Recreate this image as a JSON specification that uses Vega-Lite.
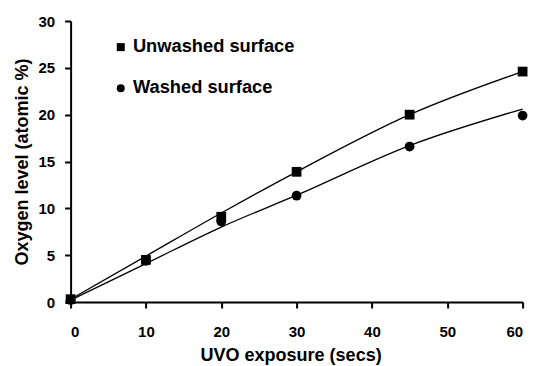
{
  "$schema": "https://vega.github.io/schema/vega-lite/v6.json",
  "autosize": {"type": "none"},
  "padding": {"left": 70.6, "top": 21, "right": 11.4, "bottom": 64},
  "width": 452,
  "height": 281,
  "background": "white",
  "config": {
    "view": {"stroke": null},
    "font": "Liberation Sans",
    "axis": {
      "grid": false,
      "domainColor": "black",
      "domainWidth": 2,
      "tickColor": "black",
      "tickWidth": 2,
      "tickSize": 6,
      "labelFont": "Liberation Sans",
      "labelFontWeight": "bold",
      "labelFontSize": 15,
      "labelColor": "black",
      "titleFont": "Liberation Sans",
      "titleFontWeight": "bold",
      "titleFontSize": 18,
      "titleColor": "black"
    }
  },
  "datasets": {
    "points": [
      {"series": "Unwashed surface", "x": 0, "y": 0.3},
      {"series": "Unwashed surface", "x": 10, "y": 4.5},
      {"series": "Unwashed surface", "x": 20, "y": 9.1},
      {"series": "Unwashed surface", "x": 30, "y": 13.9},
      {"series": "Unwashed surface", "x": 45, "y": 20.0},
      {"series": "Unwashed surface", "x": 60, "y": 24.6},
      {"series": "Washed surface", "x": 0, "y": 0.2},
      {"series": "Washed surface", "x": 10, "y": 4.4},
      {"series": "Washed surface", "x": 20, "y": 8.6},
      {"series": "Washed surface", "x": 30, "y": 11.35},
      {"series": "Washed surface", "x": 45, "y": 16.6},
      {"series": "Washed surface", "x": 60, "y": 19.9}
    ],
    "trend": [
      {"series": "Unwashed surface", "x": 0, "y": 0.3},
      {"series": "Unwashed surface", "x": 10, "y": 4.9},
      {"series": "Unwashed surface", "x": 20, "y": 9.5},
      {"series": "Unwashed surface", "x": 30, "y": 13.9},
      {"series": "Unwashed surface", "x": 45, "y": 20.0},
      {"series": "Unwashed surface", "x": 60, "y": 24.6},
      {"series": "Washed surface", "x": 0, "y": 0.2},
      {"series": "Washed surface", "x": 10, "y": 4.1},
      {"series": "Washed surface", "x": 20, "y": 8.0},
      {"series": "Washed surface", "x": 30, "y": 11.4},
      {"series": "Washed surface", "x": 45, "y": 16.7},
      {"series": "Washed surface", "x": 60, "y": 20.6}
    ]
  },
  "layer": [
    {
      "data": {"name": "trend"},
      "mark": {"type": "line", "color": "black", "strokeWidth": 1.3, "interpolate": "monotone"},
      "encoding": {
        "x": {
          "field": "x", "type": "quantitative",
          "scale": {"domain": [0, 60], "nice": false},
          "axis": {"values": [0, 10, 20, 30, 40, 50, 60], "labelPadding": 16, "title": "UVO exposure (secs)", "titleY": 58, "titleX": 220, "titleBaseline": "alphabetic"}
        },
        "y": {
          "field": "y", "type": "quantitative",
          "scale": {"domain": [0, 30], "nice": false},
          "axis": {"values": [0, 5, 10, 15, 20, 25, 30], "labelPadding": 10, "title": "Oxygen level (atomic %)", "titleX": -43.6, "titleBaseline": "alphabetic"}
        },
        "detail": {"field": "series"}
      }
    },
    {
      "data": {"name": "points"},
      "mark": {"type": "point", "filled": true, "opacity": 1, "color": "black", "size": 95},
      "encoding": {
        "x": {"field": "x", "type": "quantitative"},
        "y": {"field": "y", "type": "quantitative"},
        "shape": {
          "field": "series", "type": "nominal",
          "scale": {"domain": ["Unwashed surface", "Washed surface"], "range": ["square", "circle"]},
          "legend": {
            "title": null,
            "orient": "none",
            "legendX": 41,
            "legendY": 17,
            "padding": 0,
            "symbolSize": 64,
            "symbolFillColor": "black",
            "symbolStrokeColor": "black",
            "symbolOpacity": 1,
            "labelFont": "Liberation Sans",
            "labelFontWeight": "bold",
            "labelFontSize": 18.3,
            "labelColor": "black",
            "labelOffset": 3,
            "rowPadding": 22,
            "labelLimit": 300
          }
        }
      }
    }
  ]
}
